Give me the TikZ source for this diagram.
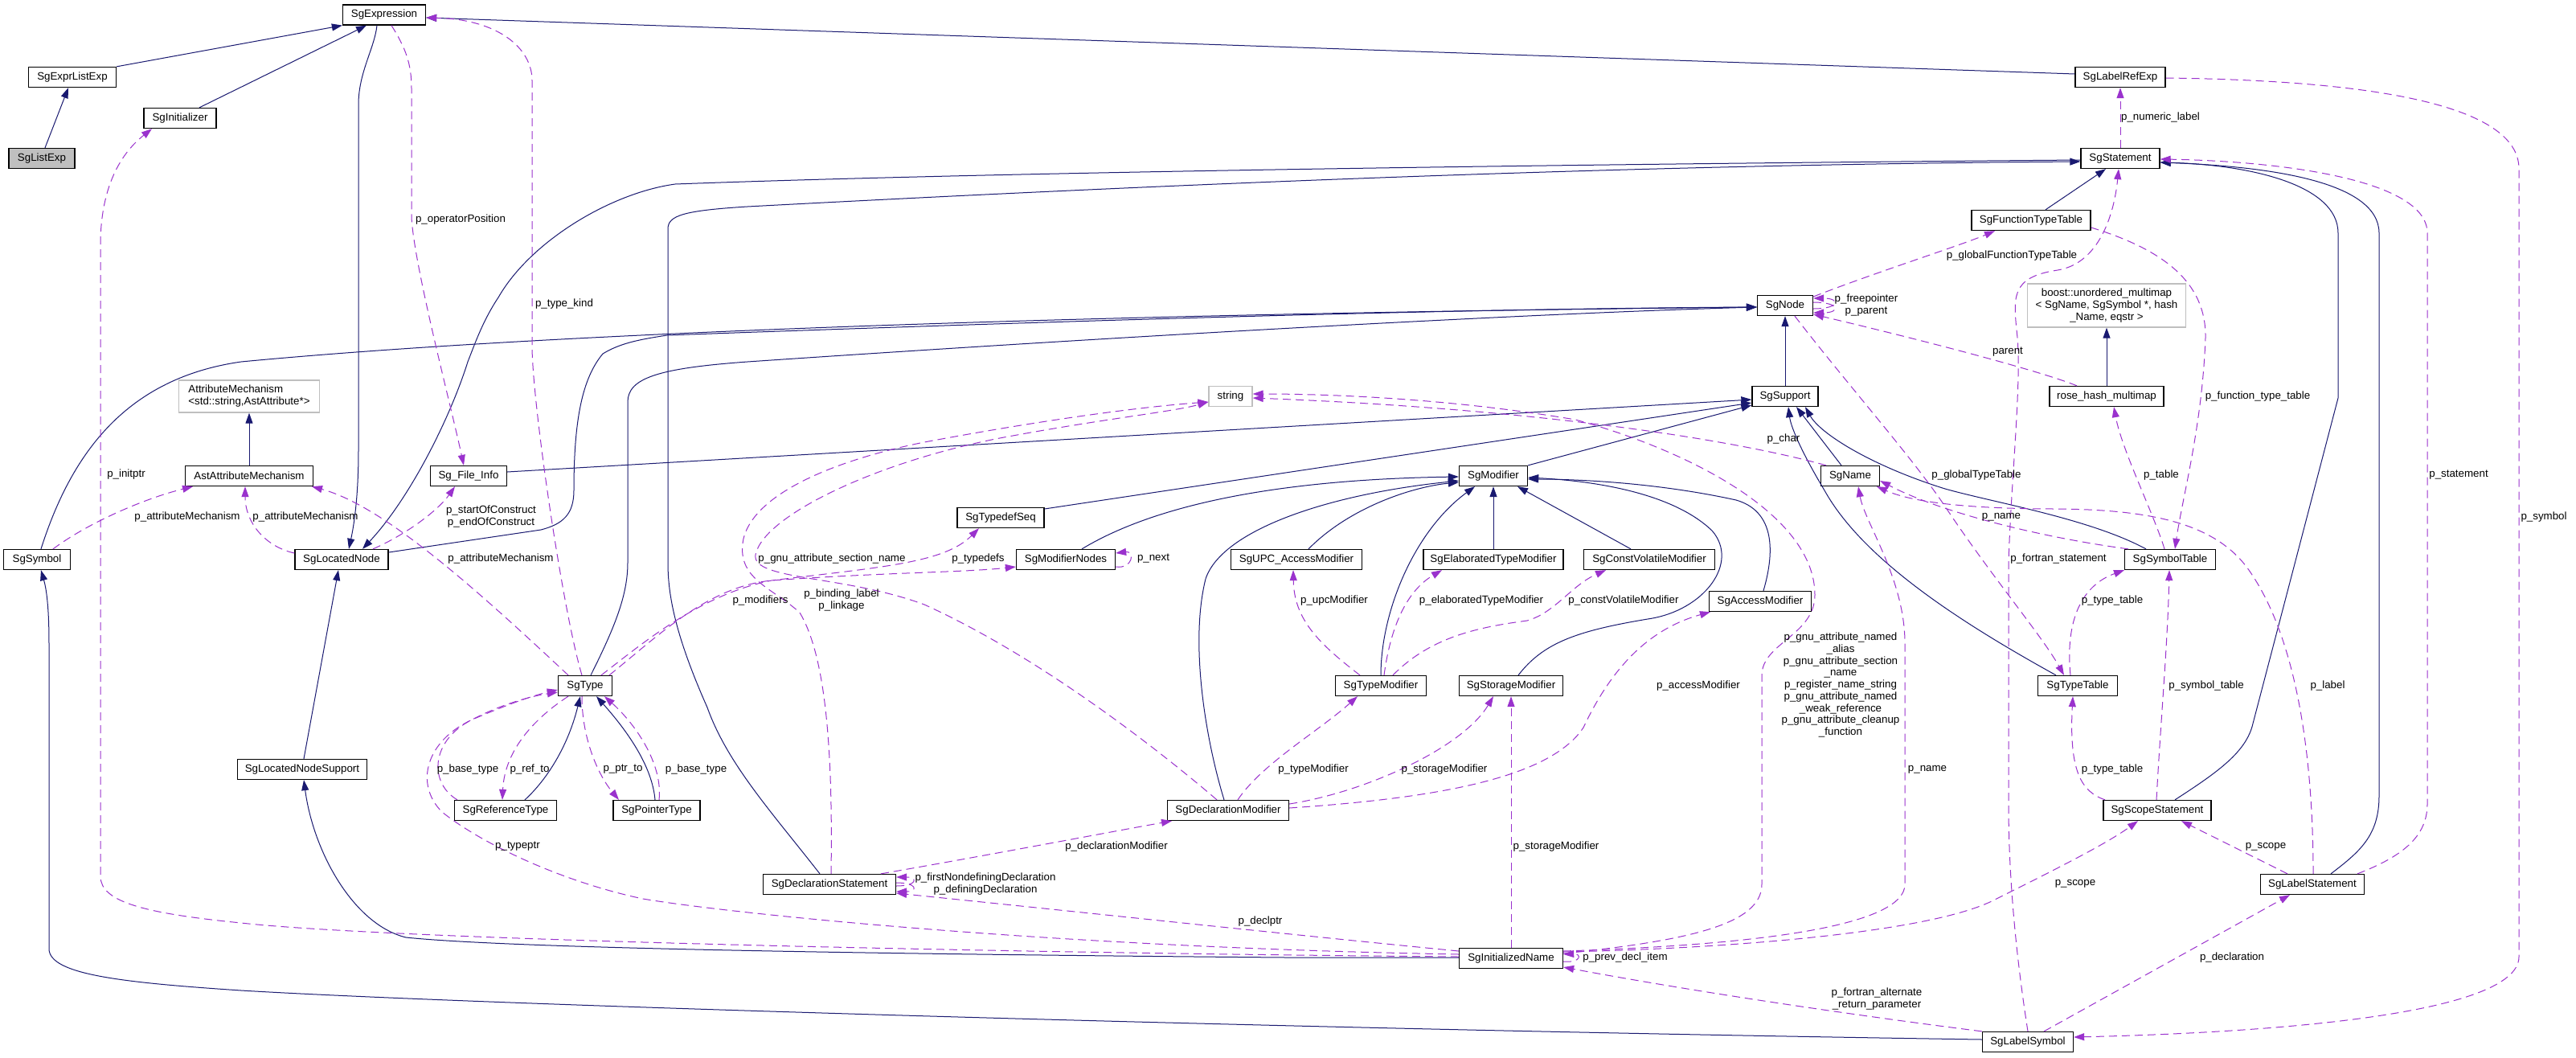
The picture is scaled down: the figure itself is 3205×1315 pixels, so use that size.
\documentclass[tikz,border=0pt]{standalone}
\usepackage{fontspec}
\setmainfont{Liberation Sans}
\usetikzlibrary{arrows.meta}
\definecolor{navy}{RGB}{25,25,112}
\definecolor{orch}{RGB}{154,50,205}
\definecolor{lgray}{RGB}{191,191,191}
\begin{document}
\begin{tikzpicture}[x=1pt,y=-1pt,
  every node/.style={font=\fontsize{13.33}{15}\selectfont},
  box/.style={draw=black,line width=1.3pt,fill=white,minimum height=25pt,inner xsep=2pt,inner ysep=0pt},
  gbox/.style={draw=lgray,line width=1.3pt,fill=white,inner xsep=8pt,inner ysep=2pt},
  inh/.style={draw=navy,line width=1pt,-{Triangle[length=13pt,width=9pt]}},
  uses/.style={draw=orch,line width=1pt,dash pattern=on 10pt off 6pt,-{Triangle[length=13pt,width=9pt]}},
  lbl/.style={inner sep=0pt,align=center}]
\fill[white] (0,0) rectangle (3205,1315);
\useasboundingbox (0,0) rectangle (3205,1315);
% ---------- nodes ----------
\node[box,minimum width=103pt] (expr) at (478,18.5) {SgExpression};
\node[box,minimum width=109pt] (exprlist) at (90,96) {SgExprListExp};
\node[box,minimum width=90pt] (init) at (224,147) {SgInitializer};
\node[box,minimum width=82pt,fill=lgray] (listexp) at (52,197) {SgListExp};
\node[box,minimum width=112pt] (labelref) at (2638,96) {SgLabelRefExp};
\node[box,minimum width=98pt] (stmt) at (2638,197) {SgStatement};
\node[box,minimum width=148pt] (funtab) at (2527,274) {SgFunctionTypeTable};
\node[gbox,minimum width=197pt,minimum height=54pt,align=center] (boost) at (2621,380) {boost::unordered\_multimap\\< SgName, SgSymbol *, hash\\\_Name, eqstr >};
\node[box,minimum width=69pt] (sgnode) at (2221,380) {SgNode};
\node[gbox,minimum width=175pt,minimum height=40pt,align=left] (attrmech) at (310,493) {AttributeMechanism\\<std::string,AstAttribute*>};
\node[box,minimum width=159pt] (astattr) at (310,592) {AstAttributeMechanism};
\node[box,minimum width=95pt] (fileinfo) at (583,592) {Sg\_File\_Info};
\node[box,minimum width=83pt] (symbol) at (46,696) {SgSymbol};
\node[box,minimum width=116pt] (locnode) at (425,696) {SgLocatedNode};
\node[box,minimum width=67pt] (type) at (728,853) {SgType};
\node[gbox,minimum width=54pt,minimum height=25pt,inner xsep=2pt,inner ysep=0pt] (string) at (1531,493) {string};
\node[box,minimum width=108pt] (typedefseq) at (1245,644) {SgTypedefSeq};
\node[box,minimum width=123pt] (modnodes) at (1326,696) {SgModifierNodes};
\node[box,minimum width=82pt] (support) at (2221,493) {SgSupport};
\node[box,minimum width=85pt] (modifier) at (1858,592) {SgModifier};
\node[box,minimum width=73pt] (name) at (2302,592) {SgName};
\node[box,minimum width=163pt] (upcmod) at (1613,696) {SgUPC\_AccessModifier};
\node[box,minimum width=174pt] (elabmod) at (1858,696) {SgElaboratedTypeModifier};
\node[box,minimum width=163pt] (cvmod) at (2052,696) {SgConstVolatileModifier};
\node[box,minimum width=127pt] (accessmod) at (2190,748) {SgAccessModifier};
\node[box,minimum width=113pt] (typemod) at (1718,853) {SgTypeModifier};
\node[box,minimum width=129pt] (storagemod) at (1880,853) {SgStorageModifier};
\node[box,minimum width=142pt] (rosehash) at (2621,493) {rose\_hash\_multimap};
\node[box,minimum width=113pt] (symtab) at (2700,696) {SgSymbolTable};
\node[box,minimum width=99pt] (typetab) at (2585,853) {SgTypeTable};
\node[box,minimum width=161pt] (locsupport) at (376,957) {SgLocatedNodeSupport};
\node[box,minimum width=127pt] (reftype) at (629,1008) {SgReferenceType};
\node[box,minimum width=108pt] (ptrtype) at (817,1008) {SgPointerType};
\node[box,minimum width=165pt] (declstmt) at (1032,1100) {SgDeclarationStatement};
\node[box,minimum width=151pt] (declmod) at (1528,1008) {SgDeclarationModifier};
\node[box,minimum width=129pt] (initname) at (1880,1192) {SgInitializedName};
\node[box,minimum width=134pt] (scope) at (2684,1008) {SgScopeStatement};
\node[box,minimum width=129pt] (labelstmt) at (2877,1100) {SgLabelStatement};
\node[box,minimum width=113pt] (labelsym) at (2523,1296) {SgLabelSymbol};
% ---------- inheritance ----------
\draw[inh] (exprlist.north east) -- (expr.south west);
\draw[inh] ([xshift=24pt]init.north) -- ([xshift=-22pt]expr.south);
\draw[inh] ([xshift=4pt]listexp.north) -- ([xshift=-5pt]exprlist.south);
\draw[inh] ([yshift=4pt]labelref.west) -- ([yshift=-3.5pt]expr.east);
\draw[inh] ([xshift=-9pt]expr.south) .. controls (466,60) and (446,90) .. (446,130) -- (446,560) .. controls (446,620) and (440,655) .. ([xshift=9pt]locnode.north);
\draw[inh] ([yshift=-2pt]stmt.west) .. controls (2100,203) and (1300,212) .. (840,229) .. controls (760,240) and (660,300) .. (620,370) .. controls (600,400) and (590,430) .. (582,450) .. controls (560,520) and (510,620) .. ([xshift=26pt]locnode.north);
\draw[inh] ([xshift=-12pt]declstmt.north) .. controls (960,1010) and (905,950) .. (880,880) .. controls (840,790) and (831,740) .. (831,700) -- (831,285) .. controls (831,268) and (850,262) .. (930,257) .. controls (1400,232) and (2000,205) .. ([yshift=-4pt]stmt.west);
\draw[inh] ([xshift=18pt]funtab.north) -- ([xshift=-18pt]stmt.south);
\draw[inh] ([xshift=22pt]scope.north) .. controls (2760,960) and (2795,935) .. (2803,900) -- (2909,495) -- (2909,290) .. controls (2909,230) and (2800,205) .. ([yshift=-5pt]stmt.east);
\draw[inh] ([xshift=23pt]labelstmt.north) .. controls (2935,1060) and (2960,1040) .. (2960,990) -- (2960,290) .. controls (2960,225) and (2820,207) .. ([yshift=-5pt]stmt.east);
\draw[inh] ([yshift=9pt]locnode.east) -- (673,659) .. controls (700,652) and (714,640) .. (714,610) .. controls (714,520) and (725,470) .. (750,440) .. controls (770,428) and (790,423) .. (830,417) .. controls (1300,400) and (1800,384) .. ([yshift=-2pt]sgnode.west);
\draw[inh] ([xshift=5pt]symbol.north) .. controls (90,560) and (160,470) .. (300,450) .. controls (700,412) and (1400,390) .. ([yshift=-2pt]sgnode.west);
\draw[inh] ([xshift=7pt]type.north) .. controls (765,780) and (781,740) .. (781,700) -- (781,500) .. controls (781,470) and (820,458) .. (930,450) .. controls (1400,418) and (1900,390) .. ([yshift=-2pt]sgnode.west);
\draw[inh] (support.north) -- (sgnode.south);
\draw[inh] ([yshift=5pt]fileinfo.east) -- ([yshift=-4pt]support.west);
\draw[inh] ([yshift=11pt]typedefseq.east) -- ([yshift=-8pt]support.west);
\draw[inh] (modifier.north east) -- ([yshift=-11pt]support.west);
\draw[inh] ([xshift=-11pt]name.north) -- ([xshift=14pt]support.south);
\draw[inh] ([xshift=-30pt]symtab.north) .. controls (2600,645) and (2480,625) .. (2420,608) .. controls (2330,580) and (2265,540) .. ([xshift=25pt]support.south);
\draw[inh] ([xshift=-27pt]typetab.north) .. controls (2450,780) and (2320,700) .. (2270,610) .. controls (2240,560) and (2228,530) .. ([xshift=4pt]support.south);
\draw[inh] (rosehash.north) -- (boost.south);
\draw[inh] (astattr.north) -- (attrmech.south);
\draw[inh] ([xshift=2pt]locsupport.north) -- ([xshift=-4pt]locnode.south);
\draw[inh] ([yshift=1pt]initname.west) -- (1600,1191) .. controls (1000,1186) and (620,1178) .. (505,1166) .. controls (440,1150) and (390,1060) .. ([xshift=2pt]locsupport.south);
\draw[inh] ([yshift=3pt]labelsym.west) .. controls (1600,1280) and (600,1250) .. (300,1232) .. controls (150,1222) and (61,1212) .. (61,1180) -- (61,800) .. controls (61,750) and (57,730) .. ([xshift=5pt]symbol.south);
\draw[inh] ([xshift=24pt]reftype.north) .. controls (675,975) and (705,935) .. ([xshift=-6pt]type.south);
\draw[inh] ([xshift=-2pt]ptrtype.north) .. controls (812,960) and (790,920) .. ([xshift=14pt]type.south);
\draw[inh] ([xshift=20pt]modnodes.north) .. controls (1450,620) and (1620,596) .. ([yshift=-1pt]modifier.west);
\draw[inh] ([xshift=-5pt]declmod.north) .. controls (1500,920) and (1480,800) .. (1500,720) .. controls (1520,660) and (1650,615) .. ([yshift=-6pt]modifier.west);
\draw[inh] ([xshift=15pt]upcmod.north) .. controls (1680,630) and (1760,605) .. ([yshift=-8pt]modifier.west);
\draw[inh] (elabmod.north) -- (modifier.south);
\draw[inh] ([xshift=-23pt]cvmod.north) -- ([xshift=30pt]modifier.south);
\draw[inh] (typemod.north) .. controls (1718,760) and (1760,660) .. ([xshift=-23pt]modifier.south);
\draw[inh] ([xshift=9pt]storagemod.north) .. controls (1920,800) and (1960,785) .. (2050,770) .. controls (2120,760) and (2165,700) .. (2130,660) .. controls (2080,612) and (1980,598) .. ([yshift=-2pt]modifier.east);
\draw[inh] ([xshift=4pt]accessmod.north) .. controls (2210,680) and (2205,635) .. (2160,622) .. controls (2060,600) and (1960,596) .. ([yshift=-4pt]modifier.east);
% ---------- usage ----------
\draw[uses] ([yshift=2pt]initname.west) .. controls (1300,1186) and (500,1170) .. (300,1148) .. controls (180,1136) and (125,1122) .. (125,1090) -- (125,300) .. controls (126,240) and (145,195) .. ([xshift=-35pt]init.south);
\draw[uses] ([xshift=39pt]locnode.north) .. controls (505,665) and (545,635) .. ([xshift=-17pt]fileinfo.south);
\draw[uses] ([xshift=9pt]expr.south) .. controls (505,60) and (512,80) .. (512,110) -- (512,270) .. controls (515,330) and (560,500) .. ([xshift=-6pt]fileinfo.north);
\draw[uses] ([xshift=-4pt]type.north) .. controls (700,760) and (662,500) .. (662,430) -- (662,100) .. controls (662,60) and (620,24) .. ([yshift=-3.5pt]expr.east);
\draw[uses] ([xshift=-21pt]type.north) .. controls (600,740) and (480,630) .. ([xshift=78pt]astattr.south);
\draw[uses] ([xshift=20pt]symbol.north) .. controls (110,650) and (180,620) .. ([xshift=-70pt]astattr.south);
\draw[uses] ([yshift=8pt]locnode.west) .. controls (330,680) and (305,650) .. ([xshift=-5pt]astattr.south);
\draw[uses] ([xshift=-60pt]reftype.north) .. controls (535,975) and (535,925) .. (582,898) .. controls (620,877) and (660,866) .. ([yshift=-8pt]type.west);
\draw[uses] ([xshift=-21pt]type.south) .. controls (670,890) and (628,930) .. ([xshift=-4pt]reftype.north);
\draw[uses] ([xshift=-4pt]type.south) .. controls (724,920) and (745,965) .. ([xshift=-47pt]ptrtype.north);
\draw[uses] ([xshift=3pt]ptrtype.north) .. controls (825,950) and (790,900) .. ([xshift=24pt]type.south);
\draw[uses] ([yshift=5pt]initname.west) .. controls (1300,1178) and (900,1135) .. (800,1118) .. controls (700,1097) and (600,1050) .. (550,1010) .. controls (515,975) and (530,920) .. (590,894) .. controls (630,877) and (660,866) .. ([yshift=-5pt]type.west);
\draw[uses] ([yshift=9pt]initname.west) .. controls (1600,1162) and (1350,1135) .. ([yshift=-11pt]declstmt.east);
\draw[uses] ([xshift=20pt]type.north) .. controls (800,800) and (870,740) .. (960,722) .. controls (1100,705) and (1175,700) .. ([xshift=-27pt]typedefseq.south);
\draw[uses] ([xshift=30pt]type.north) .. controls (820,790) and (880,730) .. (960,722) .. controls (1100,712) and (1200,712) .. ([yshift=-9pt]modnodes.west);
\draw[uses] ([yshift=-9pt]modnodes.east) .. controls (1410,708) and (1412,685) .. ([yshift=8pt]modnodes.east);
\draw[uses] ([xshift=2pt]declstmt.north) .. controls (1036,950) and (1030,820) .. (995,762) .. controls (960,730) and (915,720) .. (925,670) .. controls (940,610) and (1050,570) .. (1150,550) .. controls (1300,522) and (1420,506) .. ([yshift=-7pt]string.west);
\draw[uses] ([xshift=-14pt]declmod.north) .. controls (1450,940) and (1300,820) .. (1150,752) .. controls (1050,715) and (935,722) .. (940,690) .. controls (950,640) and (1100,570) .. (1260,542) .. controls (1380,520) and (1460,512) .. ([yshift=-7pt]string.west);
\draw[uses] ([yshift=6pt]initname.east) .. controls (2100,1170) and (2192,1150) .. (2192,1100) -- (2192,840) .. controls (2192,800) and (2258,790) .. (2258,740) .. controls (2258,640) and (2100,560) .. (1960,522) .. controls (1800,495) and (1650,490) .. ([yshift=3pt]string.east);
\draw[uses] ([xshift=-30pt]name.north) .. controls (2150,545) and (1900,508) .. ([yshift=-2pt]string.east);
\draw[uses] (stmt.north) -- (labelref.south);
\draw[uses] ([yshift=-1pt]labelref.east) .. controls (2950,100) and (3134,130) .. (3134,210) -- (3134,1190) .. controls (3134,1265) and (2800,1285) .. ([yshift=6pt]labelsym.east);
\draw[uses] ([xshift=56pt]labelstmt.north) .. controls (2990,1065) and (3020,1040) .. (3020,1000) -- (3020,290) .. controls (3020,220) and (2820,200) .. ([yshift=-1pt]stmt.east);
\draw[uses] (labelsym.north) .. controls (2510,1200) and (2499,1100) .. (2499,1000) -- (2499,700) .. controls (2502,600) and (2515,480) .. (2510,420) .. controls (2505,370) and (2500,345) .. (2560,336) .. controls (2610,328) and (2630,270) .. ([xshift=-2pt]stmt.south);
\draw[uses] ([yshift=-4pt]sgnode.east) .. controls (2290,384) and (2290,371) .. ([yshift=9pt]sgnode.east);
\draw[uses] ([yshift=4pt]sgnode.east) .. controls (2290,376) and (2290,389) .. ([yshift=-9pt]sgnode.east);
\draw[uses] ([yshift=11pt]sgnode.east) .. controls (2330,340) and (2440,305) .. ([xshift=-45pt]funtab.south);
\draw[uses] ([xshift=-37pt]rosehash.north) .. controls (2540,462) and (2400,425) .. ([yshift=-11pt]sgnode.east);
\draw[uses] ([xshift=12pt]sgnode.south) .. controls (2300,480) and (2380,570) .. (2420,630) .. controls (2480,720) and (2540,790) .. ([xshift=-17pt]typetab.north);
\draw[uses] ([yshift=-9pt]funtab.east) .. controls (2690,310) and (2745,350) .. (2744,420) .. controls (2740,530) and (2715,620) .. ([xshift=6pt]symtab.north);
\draw[uses] ([xshift=-7pt]symtab.north) .. controls (2680,640) and (2640,560) .. ([xshift=9pt]rosehash.south);
\draw[uses] ([xshift=-52pt]symtab.north) .. controls (2550,670) and (2420,640) .. ([yshift=-6pt]name.east);
\draw[uses] ([xshift=1pt]labelstmt.north) .. controls (2878,950) and (2860,800) .. (2800,712) .. controls (2760,652) and (2680,634) .. (2560,633) .. controls (2450,633) and (2380,625) .. ([xshift=33pt]name.south);
\draw[uses] ([xshift=-65pt]scope.north) .. controls (2590,985) and (2574,960) .. ([xshift=-6pt]typetab.south);
\draw[uses] ([xshift=-9pt]typetab.north) .. controls (2570,780) and (2585,730) .. ([xshift=-57pt]symtab.south);
\draw[uses] ([xshift=-1pt]scope.north) .. controls (2688,900) and (2697,800) .. ([xshift=-1pt]symtab.south);
\draw[uses] ([xshift=-31pt]labelstmt.north) -- ([xshift=30pt]scope.south);
\draw[uses] ([yshift=8pt]initname.east) .. controls (2150,1180) and (2400,1160) .. (2480,1120) .. controls (2560,1080) and (2620,1050) .. ([xshift=-24pt]scope.south);
\draw[uses] ([xshift=20pt]labelsym.north) -- ([xshift=-28pt]labelstmt.south);
\draw[uses] (labelsym.north west) .. controls (2300,1262) and (2100,1232) .. ([yshift=-11pt]initname.east);
\draw[uses] ([yshift=-4pt]initname.east) .. controls (1968,1198) and (1968,1186) .. ([yshift=5pt]initname.east);
\draw[uses] ([yshift=9pt]initname.east) .. controls (2200,1175) and (2370,1150) .. (2370,1100) -- (2370,800) .. controls (2370,720) and (2320,650) .. ([xshift=10pt]name.south);
\draw[uses] ([xshift=12pt]declmod.north) .. controls (1570,950) and (1640,910) .. ([xshift=-29pt]typemod.south);
\draw[uses] ([yshift=8pt]declmod.east) .. controls (1700,985) and (1820,930) .. ([xshift=-22pt]storagemod.south);
\draw[uses] ([yshift=3pt]declmod.east) .. controls (1800,992) and (1930,965) .. (1970,905) .. controls (2010,820) and (2060,780) .. ([xshift=-62pt]accessmod.south);
\draw[uses] (initname.north) -- (storagemod.south);
\draw[uses] ([xshift=-26pt]typemod.north) .. controls (1640,800) and (1610,770) .. ([xshift=-4pt]upcmod.south);
\draw[uses] ([xshift=4pt]typemod.north) .. controls (1730,780) and (1750,735) .. ([xshift=-64pt]elabmod.south);
\draw[uses] ([xshift=15pt]typemod.north) .. controls (1780,792) and (1840,780) .. (1900,772) .. controls (1935,762) and (1955,728) .. ([xshift=-54pt]cvmod.south);
\draw[uses] ([xshift=64pt]declstmt.north) .. controls (1250,1060) and (1380,1035) .. ([xshift=-70pt]declmod.south);
\draw[uses] ([yshift=-2pt]declstmt.east) .. controls (1142,1102) and (1142,1091) .. ([yshift=9pt]declstmt.east);
\draw[uses] ([yshift=2pt]declstmt.east) .. controls (1142,1098) and (1142,1109) .. ([yshift=-9pt]declstmt.east);
% ---------- labels ----------
\node[lbl] (lb1) at (157,590) {p\_initptr};
\node[lbl] (lb2) at (573,273) {p\_operatorPosition};
\node[lbl] (lb3) at (702,378) {p\_type\_kind};
\node[lbl] (lb4) at (233,643) {p\_attributeMechanism};
\node[lbl] (lb5) at (380,643) {p\_attributeMechanism};
\node[lbl] (lb6) at (623,695) {p\_attributeMechanism};
\node[lbl] (lb7) at (611,643) {p\_startOfConstruct\\p\_endOfConstruct};
\node[lbl] (lb8) at (1035,695) {p\_gnu\_attribute\_section\_name};
\node[lbl] (lb9) at (1217,695) {p\_typedefs};
\node[lbl] (lb10) at (1435,695) {p\_next};
\node[lbl] (lb11) at (946,747) {p\_modifiers};
\node[lbl] (lb12) at (1047,747) {p\_binding\_label\\p\_linkage};
\node[lbl] (lb13) at (582,957) {p\_base\_type};
\node[lbl] (lb14) at (659,957) {p\_ref\_to};
\node[lbl] (lb15) at (775,957) {p\_ptr\_to};
\node[lbl] (lb16) at (866,957) {p\_base\_type};
\node[lbl] (lb17) at (644,1053) {p\_typeptr};
\node[lbl] (lb18) at (1226,1100) {p\_firstNondefiningDeclaration\\p\_definingDeclaration};
\node[lbl] (lb19) at (1389,1053) {p\_declarationModifier};
\node[lbl] (lb20) at (1568,1146) {p\_declptr};
\node[lbl] (lb21) at (1660,747) {p\_upcModifier};
\node[lbl] (lb22) at (1843,747) {p\_elaboratedTypeModifier};
\node[lbl] (lb23) at (2020,747) {p\_constVolatileModifier};
\node[lbl] (lb24) at (1634,957) {p\_typeModifier};
\node[lbl] (lb25) at (1797,957) {p\_storageModifier};
\node[lbl] (lb26) at (2113,853) {p\_accessModifier};
\node[lbl] (lb27) at (1936,1053) {p\_storageModifier};
\node[lbl] (lb28) at (2022,1191) {p\_prev\_decl\_item};
\node[lbl] (lb29) at (2219,546) {p\_char};
\node[lbl,font=\fontsize{13.33}{14.75}\selectfont] (lb30) at (2290,852) {p\_gnu\_attribute\_named\\\_alias\\p\_gnu\_attribute\_section\\\_name\\p\_register\_name\_string\\p\_gnu\_attribute\_named\\\_weak\_reference\\p\_gnu\_attribute\_cleanup\\\_function};
\node[lbl] (lb31) at (2398,957) {p\_name};
\node[lbl] (lb32) at (2688,146) {p\_numeric\_label};
\node[lbl] (lb33) at (2503,318) {p\_globalFunctionTypeTable};
\node[lbl] (lb34) at (2322,380) {p\_freepointer\\p\_parent};
\node[lbl] (lb35) at (2498,438) {parent};
\node[lbl] (lb36) at (2809,493) {p\_function\_type\_table};
\node[lbl] (lb37) at (2689,591) {p\_table};
\node[lbl] (lb38) at (2459,591) {p\_globalTypeTable};
\node[lbl] (lb39) at (2490,643) {p\_name};
\node[lbl] (lb40) at (2561,695) {p\_fortran\_statement};
\node[lbl] (lb41) at (2628,747) {p\_type\_table};
\node[lbl] (lb42) at (2745,853) {p\_symbol\_table};
\node[lbl] (lb43) at (2896,853) {p\_label};
\node[lbl] (lb44) at (2628,957) {p\_type\_table};
\node[lbl] (lb45) at (3059,591) {p\_statement};
\node[lbl] (lb46) at (3165,643) {p\_symbol};
\node[lbl] (lb47) at (2819,1053) {p\_scope};
\node[lbl] (lb48) at (2582,1099) {p\_scope};
\node[lbl] (lb49) at (2777,1191) {p\_declaration};
\node[lbl] (lb50) at (2335,1243) {p\_fortran\_alternate\\\_return\_parameter};
\end{tikzpicture}
\end{document}
